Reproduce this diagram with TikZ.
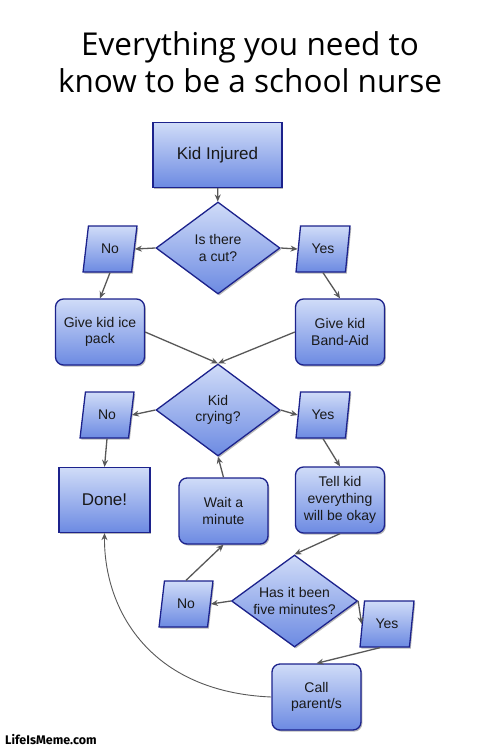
\documentclass[tikz,border=0pt]{standalone}
\usepackage{fontspec}
\setmainfont{Liberation Sans}
\newfontfamily\titlefont{Open Sans}
\newfontfamily\wmfont{Fira Sans}
\usetikzlibrary{shapes.geometric,arrows.meta,shadows}
\definecolor{topc}{RGB}{208,220,248}
\definecolor{botc}{RGB}{108,138,226}
\definecolor{bordc}{RGB}{28,34,140}
\definecolor{arrc}{RGB}{88,88,88}
\tikzset{
  base/.style={draw=bordc, line width=1.3pt, top color=topc, bottom color=botc,
    drop shadow={shadow xshift=1.3pt, shadow yshift=-1.6pt, fill=black, opacity=0.28},
    align=center, font=\fontsize{14}{16.7}\selectfont, inner sep=1pt, text=black!90},
  sqbox/.style={base, rectangle, minimum width=#1, minimum height=65pt},
  rbox/.style={base, rectangle, rounded corners=8pt, minimum width=89pt, minimum height=66pt},
  decide/.style={base, diamond, aspect=1.35, minimum width=124pt, minimum height=92pt, inner sep=0pt},
  ans/.style={base, trapezium, trapezium left angle=78, trapezium right angle=102,
    trapezium stretches=true, minimum width=54pt, minimum height=46pt},
  arr/.style={draw=arrc, line width=1.3pt, -{Stealth[length=7pt,width=6pt]}},
}
\begin{document}
\begin{tikzpicture}[x=1pt,y=-1pt]
\useasboundingbox (0,0) rectangle (500,750);
\fill[white] (0,0) rectangle (500,750);
\node[font=\titlefont\fontsize{31.5}{37}\selectfont, align=center, anchor=base] (title) at (250,92) {Everything you need to\\know to be a school nurse};

\node[sqbox=129pt, font=\fontsize{17}{20}\selectfont] (inj) at (217.5,155) {Kid Injured};
\node[decide] (d1) at (218,248) {Is there\\a cut?};
\node[ans] (no1) at (110,249) {No};
\node[ans] (yes1) at (323,249) {Yes};
\node[rbox] (ice) at (100,332) {Give kid ice\\pack};
\node[rbox] (band) at (340,332) {Give kid\\Band-Aid};
\node[decide] (d2) at (218,410) {Kid\\crying?};
\node[ans] (no2) at (107,415) {No};
\node[ans] (yes2) at (323,415) {Yes};
\node[sqbox=91pt, font=\fontsize{17}{20}\selectfont] (done) at (104.5,500) {Done!};
\node[rbox] (wait) at (223.5,511) {Wait a\\minute};
\node[rbox] (tell) at (340,500) {Tell kid\\everything\\will be okay};
\node[decide, minimum width=126pt] (d3) at (294.5,601) {Has it been\\five minutes?};
\node[ans] (no3) at (186,604) {No};
\node[ans] (yes3) at (387,624) {Yes};
\node[rbox] (call) at (316.5,697) {Call\\parent/s};

\node[font=\wmfont\bfseries\fontsize{12.5}{14}\selectfont, anchor=base west, inner sep=0pt] (wm) at (5,744) {LifeIsMeme.com};

\draw[arr] (inj) -- (d1);
\draw[arr] (d1.west) -- (no1.east);
\draw[arr] (d1.east) -- (yes1.west);
\draw[arr] (no1.south) -- (ice.north);
\draw[arr] (yes1.south) -- (band.north);
\draw[arr] (ice.east) -- (d2.north);
\draw[arr] (band.west) -- (d2.north);
\draw[arr] (d2.west) -- (no2.east);
\draw[arr] (d2.east) -- (yes2.west);
\draw[arr] (no2.south) -- (done.north);
\draw[arr] (yes2.south) -- (tell.north);
\draw[arr] (wait.north) -- (d2.south);
\draw[arr] (tell.south) -- (d3.north);
\draw[arr] (d3.west) -- (no3.east);
\draw[arr] (no3.north) -- (wait.south);
\draw[arr] (d3.east) -- (yes3.west);
\draw[arr] ([xshift=-7pt]yes3.south) -- (call.north);
\draw[arr, line width=0.9pt] (call.west) .. controls (150,692) and (104,610) .. (done.south);
\end{tikzpicture}
\end{document}
